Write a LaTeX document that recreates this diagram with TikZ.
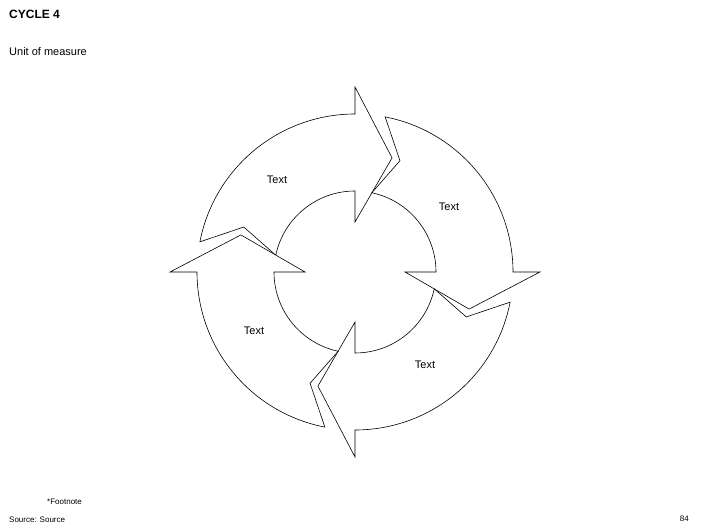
\documentclass[tikz,border=0pt]{standalone}
\usepackage{fontspec}
\setmainfont{Liberation Sans}
\begin{document}
\begin{tikzpicture}[x=1pt,y=1pt,
  seg/.style={draw=black,line width=0.6pt,fill=white,line join=miter},
  lbl/.style={font=\fontsize{11}{13}\selectfont,inner sep=0pt}]
\useasboundingbox (0,0) rectangle (706,529);
\begin{scope}[shift={(355,257)}]
\foreach \H [count=\i] in {90,0,-90,-180}{
  \pgfmathsetmacro\T{\H+90}
  \pgfmathsetmacro\g{4}
  \pgfmathsetmacro\To{\T-7-\g}
  \pgfmathsetmacro\Ti{\T-8-\g}
  \pgfmathsetmacro\Tn{\T-18-\g}
  \pgfmathsetmacro\Tip{\H-18}
  \draw[seg] (\To:158) arc[start angle=\To,end angle=\H,radius=158]
    -- (\H:185) -- (\Tip:120) -- (\H:50) -- (\H:81)
    arc[start angle=\H,end angle=\Ti,radius=81] -- (\Tn:120) -- cycle;
}
\end{scope}
\node[lbl] (t1) at (277,349) {Text};
\node[lbl] (t2) at (449,322) {Text};
\node[lbl] (t3) at (425,164) {Text};
\node[lbl] (t4) at (254,198) {Text};
\node[anchor=west,inner sep=0pt,font=\bfseries\fontsize{12}{14}\selectfont] (title) at (9,515) {CYCLE 4};
\node[anchor=west,inner sep=0pt,font=\fontsize{11}{13}\selectfont] (unit) at (9,477) {Unit of measure};
\node[anchor=west,inner sep=0pt,font=\fontsize{8}{10}\selectfont] (fn) at (47,27) {*Footnote};
\node[anchor=west,inner sep=0pt,font=\fontsize{8}{10}\selectfont] (src) at (9,9) {Source: Source};
\node[anchor=east,inner sep=0pt,font=\fontsize{8}{10}\selectfont] (pg) at (689,10) {84};
\end{tikzpicture}
\end{document}
